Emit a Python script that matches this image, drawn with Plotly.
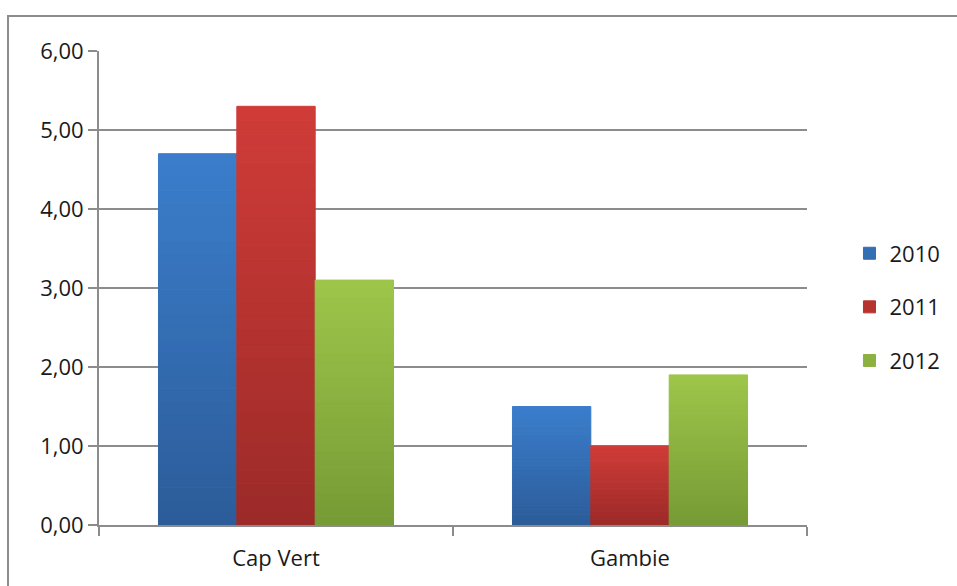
import plotly.graph_objects as go

# Data
countries = ["Cap Vert", "Gambie"]
years = ["2010", "2011", "2012"]
values_2010 = [4.7, 1.5]
values_2011 = [5.3, 1.0]
values_2012 = [3.1, 1.9]
y_ticks = [0, 1, 2, 3, 4, 5, 6]
y_tick_labels = ["0,00", "1,00", "2,00", "3,00", "4,00", "5,00", "6,00"]

series = [
    ("2010", values_2010, (0x2c, 0x5c, 0x99), (0x3b, 0x7e, 0xcc)),
    ("2011", values_2011, (0x9b, 0x2a, 0x28), (0xd0, 0x3c, 0x38)),
    ("2012", values_2012, (0x76, 0x9a, 0x35), (0x9e, 0xc6, 0x4a)),
]

N_SLICES = 30
FONT = "Open Sans"


def mix(c0, c1, t):
    return "rgb(%d,%d,%d)" % tuple(round(a + (b - a) * t) for a, b in zip(c0, c1))


fig = go.Figure()

# Each bar is built from stacked slices that shade from dark (bottom) to light (top)
for name, vals, dark, light in series:
    for i in range(N_SLICES):
        t = (i + 0.5) / N_SLICES
        c = mix(dark, light, t)
        fig.add_trace(go.Bar(
            x=countries,
            y=[v / N_SLICES for v in vals],
            base=[v * i / N_SLICES for v in vals],
            offsetgroup=name,
            legendgroup=name,
            name=name,
            showlegend=(i == N_SLICES // 2),
            marker=dict(color=c, line=dict(width=1, color=c)),
            hoverinfo="skip",
        ))

grid = "#8c8c8c"

fig.update_layout(
    width=957, height=586,
    margin=dict(l=99, r=150, t=51, b=61, autoexpand=False),
    paper_bgcolor="white", plot_bgcolor="white",
    barmode="group", bargap=0.336, bargroupgap=0,
    font=dict(family=FONT, size=22, color="#1a1a1a"),
    legend=dict(
        x=1.06, xanchor="left", y=0.46, yanchor="middle",
        font=dict(family=FONT, size=22, color="#1a1a1a"),
        tracegroupgap=22, itemwidth=30, bgcolor="rgba(0,0,0,0)",
    ),
    xaxis=dict(
        showgrid=False, showline=True, linecolor=grid, linewidth=2,
        ticks="outside", tickson="boundaries", ticklen=9, tickwidth=2, tickcolor=grid,
        ticklabelstandoff=13, tickfont=dict(size=22),
    ),
    yaxis=dict(
        range=[0, 6], tickvals=y_ticks, ticktext=y_tick_labels,
        showgrid=True, gridcolor=grid, gridwidth=2,
        showline=True, linecolor=grid, linewidth=2, zeroline=False,
        ticks="outside", ticklen=9, tickwidth=2, tickcolor=grid,
        tickfont=dict(size=22),
    ),
    shapes=[dict(
        type="rect", xref="paper", yref="paper",
        x0=-0.1285, x1=1.4, y0=-0.3, y1=1.0738,
        line=dict(color=grid, width=2), fillcolor="rgba(0,0,0,0)", layer="below",
    )],
)

fig.write_html("out.html")
